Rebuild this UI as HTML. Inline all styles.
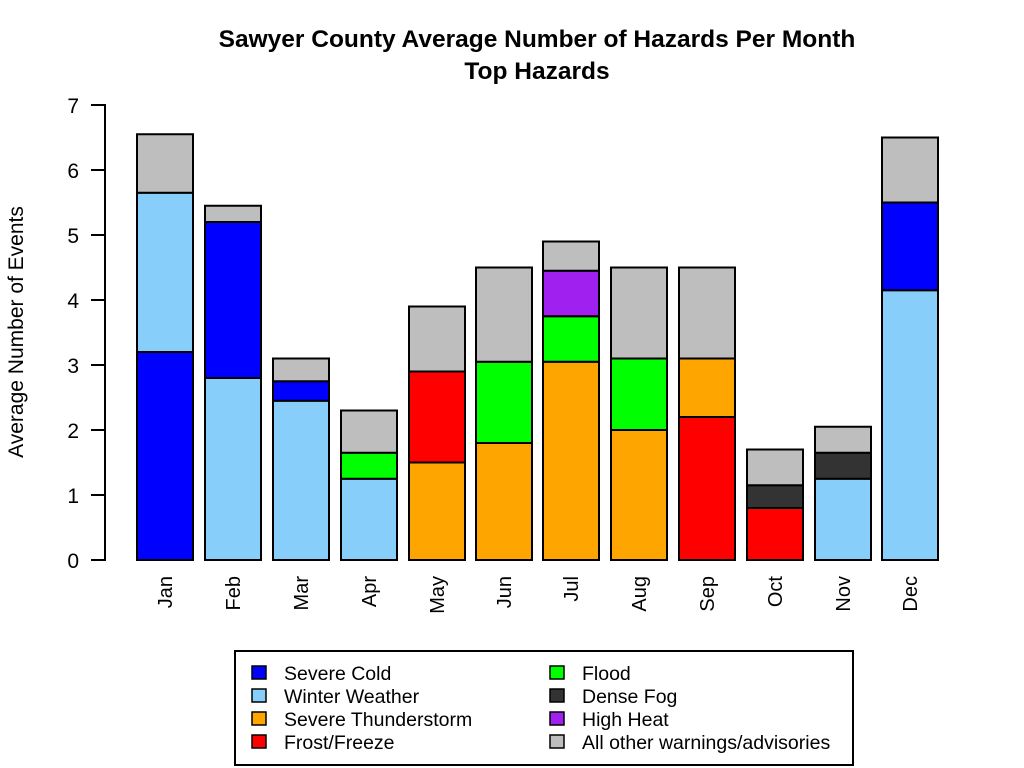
<!DOCTYPE html>
<html><head><meta charset="utf-8"><style>
html,body{margin:0;padding:0;background:#fff}
svg{display:block;font-family:"Liberation Sans",Arial,sans-serif}
</style></head><body>
<svg width="1024" height="768" xmlns="http://www.w3.org/2000/svg">
<text x="537" y="47" font-size="24.5" font-weight="bold" text-anchor="middle">Sawyer County Average Number of Hazards Per Month</text>
<text x="537" y="79" font-size="24.5" font-weight="bold" text-anchor="middle">Top Hazards</text>
<text transform="translate(23,332) rotate(-90)" font-size="21" text-anchor="middle">Average Number of Events</text>
<g stroke="#000" stroke-width="2">
<line x1="105" y1="104" x2="105" y2="561"/>
<line x1="91" y1="560" x2="105" y2="560"/>
<line x1="91" y1="495" x2="105" y2="495"/>
<line x1="91" y1="430" x2="105" y2="430"/>
<line x1="91" y1="365" x2="105" y2="365"/>
<line x1="91" y1="300" x2="105" y2="300"/>
<line x1="91" y1="235" x2="105" y2="235"/>
<line x1="91" y1="170" x2="105" y2="170"/>
<line x1="91" y1="105" x2="105" y2="105"/>
</g>
<g font-size="21" text-anchor="end">
<text x="79" y="568">0</text><text x="79" y="503">1</text><text x="79" y="438">2</text><text x="79" y="373">3</text>
<text x="79" y="308">4</text><text x="79" y="243">5</text><text x="79" y="178">6</text><text x="79" y="113">7</text>
</g>
<g stroke="#000" stroke-width="2">
<rect x="137" y="352" width="56" height="208" fill="#0000FF"/>
<rect x="137" y="192.75" width="56" height="159.25" fill="#87CEFA"/>
<rect x="137" y="134.25" width="56" height="58.5" fill="#BEBEBE"/>
<rect x="205" y="378" width="56" height="182" fill="#87CEFA"/>
<rect x="205" y="222" width="56" height="156" fill="#0000FF"/>
<rect x="205" y="205.75" width="56" height="16.25" fill="#BEBEBE"/>
<rect x="273" y="400.75" width="56" height="159.25" fill="#87CEFA"/>
<rect x="273" y="381.25" width="56" height="19.5" fill="#0000FF"/>
<rect x="273" y="358.5" width="56" height="22.75" fill="#BEBEBE"/>
<rect x="341" y="478.75" width="56" height="81.25" fill="#87CEFA"/>
<rect x="341" y="452.75" width="56" height="26" fill="#00FF00"/>
<rect x="341" y="410.5" width="56" height="42.25" fill="#BEBEBE"/>
<rect x="409" y="462.5" width="56" height="97.5" fill="#FFA500"/>
<rect x="409" y="371.5" width="56" height="91" fill="#FF0000"/>
<rect x="409" y="306.5" width="56" height="65" fill="#BEBEBE"/>
<rect x="476" y="443" width="56" height="117" fill="#FFA500"/>
<rect x="476" y="361.75" width="56" height="81.25" fill="#00FF00"/>
<rect x="476" y="267.5" width="56" height="94.25" fill="#BEBEBE"/>
<rect x="543" y="361.75" width="56" height="198.25" fill="#FFA500"/>
<rect x="543" y="316.25" width="56" height="45.5" fill="#00FF00"/>
<rect x="543" y="270.75" width="56" height="45.5" fill="#A020F0"/>
<rect x="543" y="241.5" width="56" height="29.25" fill="#BEBEBE"/>
<rect x="611" y="430" width="56" height="130" fill="#FFA500"/>
<rect x="611" y="358.5" width="56" height="71.5" fill="#00FF00"/>
<rect x="611" y="267.5" width="56" height="91" fill="#BEBEBE"/>
<rect x="679" y="417" width="56" height="143" fill="#FF0000"/>
<rect x="679" y="358.5" width="56" height="58.5" fill="#FFA500"/>
<rect x="679" y="267.5" width="56" height="91" fill="#BEBEBE"/>
<rect x="747" y="508" width="56" height="52" fill="#FF0000"/>
<rect x="747" y="485.25" width="56" height="22.75" fill="#333333"/>
<rect x="747" y="449.5" width="56" height="35.75" fill="#BEBEBE"/>
<rect x="815" y="478.75" width="56" height="81.25" fill="#87CEFA"/>
<rect x="815" y="452.75" width="56" height="26" fill="#333333"/>
<rect x="815" y="426.75" width="56" height="26" fill="#BEBEBE"/>
<rect x="882" y="290.25" width="56" height="269.75" fill="#87CEFA"/>
<rect x="882" y="202.5" width="56" height="87.75" fill="#0000FF"/>
<rect x="882" y="137.5" width="56" height="65" fill="#BEBEBE"/>
</g>
<g font-size="20" text-anchor="end">
<text transform="translate(172,576) rotate(-90)">Jan</text>
<text transform="translate(240,576) rotate(-90)">Feb</text>
<text transform="translate(308,576) rotate(-90)">Mar</text>
<text transform="translate(376,576) rotate(-90)">Apr</text>
<text transform="translate(444,576) rotate(-90)">May</text>
<text transform="translate(511,576) rotate(-90)">Jun</text>
<text transform="translate(578,576) rotate(-90)">Jul</text>
<text transform="translate(646,576) rotate(-90)">Aug</text>
<text transform="translate(714,576) rotate(-90)">Sep</text>
<text transform="translate(782,576) rotate(-90)">Oct</text>
<text transform="translate(850,576) rotate(-90)">Nov</text>
<text transform="translate(917,576) rotate(-90)">Dec</text>
</g>
<rect x="235" y="651" width="618" height="114" fill="none" stroke="#000" stroke-width="2"/>
<g stroke="#000" stroke-width="1.5">
<rect x="252" y="666" width="14" height="13" fill="#0000FF"/>
<rect x="252" y="689" width="14" height="13" fill="#87CEFA"/>
<rect x="252" y="712" width="14" height="13" fill="#FFA500"/>
<rect x="252" y="735" width="14" height="13" fill="#FF0000"/>
<rect x="550" y="666" width="14" height="13" fill="#00FF00"/>
<rect x="550" y="689" width="14" height="13" fill="#333333"/>
<rect x="550" y="712" width="14" height="13" fill="#A020F0"/>
<rect x="550" y="735" width="14" height="13" fill="#BEBEBE"/>
</g>
<g font-size="19.5">
<text x="284" y="680">Severe Cold</text>
<text x="284" y="703">Winter Weather</text>
<text x="284" y="726">Severe Thunderstorm</text>
<text x="284" y="749">Frost/Freeze</text>
<text x="582" y="680">Flood</text>
<text x="582" y="703">Dense Fog</text>
<text x="582" y="726">High Heat</text>
<text x="582" y="749">All other warnings/advisories</text>
</g>
</svg>
</body></html>
